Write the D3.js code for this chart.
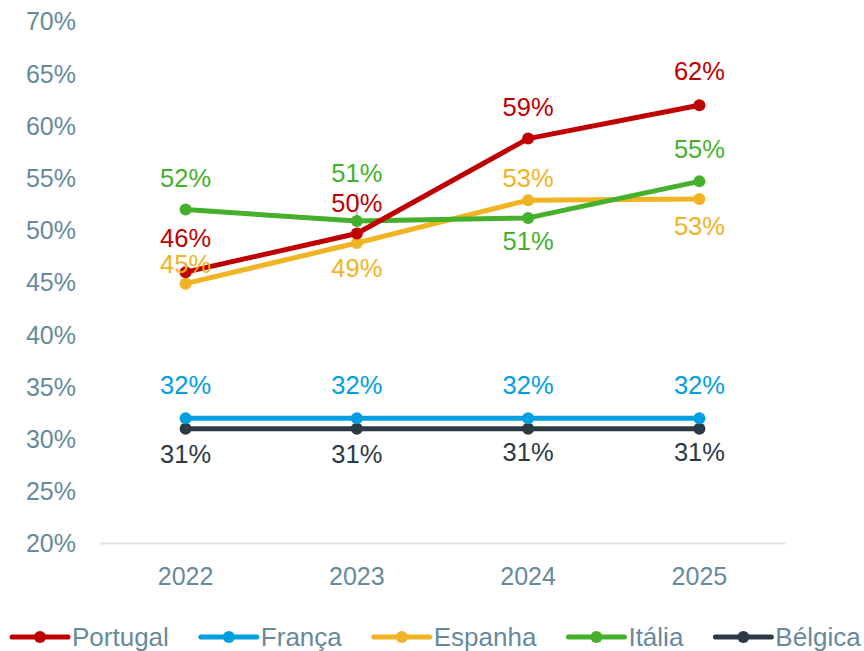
<!DOCTYPE html>
<html>
<head>
<meta charset="utf-8">
<script src="https://cdn.jsdelivr.net/npm/d3@7"></script>
<style>
  html, body { margin: 0; padding: 0; background: #fff; }
  svg { display: block; font-family: "Liberation Sans", Arial, sans-serif; }
</style>
</head>
<body>
<svg id="chart" width="864" height="651"></svg>
<script>
// Years on the x axis
const years = ["2022", "2023", "2024", "2025"];

// Share per country and year (%)
const portugal = [46.0, 49.7, 58.8, 62.0];
const franca   = [32.0, 32.0, 32.0, 32.0];
const espanha  = [44.9, 48.8, 52.9, 53.0];
const italia   = [52.0, 50.9, 51.2, 54.7];
const belgica  = [31.0, 31.0, 31.0, 31.0];

// Y axis ticks (%)
const yTicks = [20, 25, 30, 35, 40, 45, 50, 55, 60, 65, 70];

const series = [
  { name: "Portugal", values: portugal, color: "#c00000" },
  { name: "França",   values: franca,   color: "#00a0e0" },
  { name: "Espanha",  values: espanha,  color: "#f0b323" },
  { name: "Itália",   values: italia,   color: "#45b02c" },
  { name: "Bélgica",  values: belgica,  color: "#2b3a45" }
];

// Vertical offset of each value label's baseline relative to its point
const labelOffsets = {
  "Portugal": [-25, -22, -23, -25],
  "França":   [-24, -24, -24, -24],
  "Espanha":  [-11, 34, -13, 36],
  "Itália":   [-23, -39, 32, -23],
  "Bélgica":  [34, 34, 32, 32]
};

const axisColor = "#668a9c";
const svg = d3.select("#chart");

const x = d3.scalePoint().domain(years).range([185.6, 699.4]);
const y = d3.scaleLinear().domain([20, 70]).range([543.5, 21.7]);

// Y tick labels
svg.append("g").selectAll("text")
  .data(yTicks).join("text")
  .attr("x", 76).attr("y", d => y(d)).attr("dy", "0.35em")
  .attr("text-anchor", "end")
  .attr("font-size", 25).attr("fill", axisColor)
  .text(d => d + "%");

// Baseline
svg.append("line")
  .attr("x1", 100).attr("x2", 785)
  .attr("y1", y(20)).attr("y2", y(20))
  .attr("stroke", "#dde2e6").attr("stroke-width", 2);

// X tick labels
svg.append("g").selectAll("text")
  .data(years).join("text")
  .attr("x", d => x(d)).attr("y", 585)
  .attr("text-anchor", "middle")
  .attr("font-size", 25).attr("fill", axisColor)
  .text(d => d);

// Leader line for the crowded 2023 Portugal label
svg.append("line")
  .attr("x1", x("2023")).attr("x2", x("2023"))
  .attr("y1", y(italia[1]) - 28).attr("y2", y(italia[1]))
  .attr("stroke", "#a9b4bd").attr("stroke-width", 1.5);

const line = d3.line().x((d, i) => x(years[i])).y(d => y(d));

// Draw series bottom-up so Portugal sits on top
const drawOrder = ["Bélgica", "França", "Espanha", "Itália", "Portugal"];
drawOrder.forEach(nm => {
  const s = series.find(t => t.name === nm);
  const g = svg.append("g");
  g.append("path").datum(s.values)
    .attr("d", line).attr("fill", "none")
    .attr("stroke", s.color).attr("stroke-width", 5)
    .attr("stroke-linejoin", "round");
  g.selectAll("circle").data(s.values).join("circle")
    .attr("cx", (d, i) => x(years[i])).attr("cy", d => y(d))
    .attr("r", 6).attr("fill", s.color);
});

// Value labels
series.forEach(s => {
  svg.append("g").selectAll("text").data(s.values).join("text")
    .attr("x", (d, i) => x(years[i]))
    .attr("y", (d, i) => y(d) + labelOffsets[s.name][i])
    .attr("text-anchor", "middle")
    .attr("font-size", 25.5).attr("fill", s.color)
    .text(d => Math.round(d) + "%");
});

// Legend
const legend = svg.append("g");
let lx = 12;
const ly = 637;
series.forEach(s => {
  const item = legend.append("g").attr("transform", `translate(${lx},0)`);
  item.append("line").attr("x1", 0).attr("x2", 56).attr("y1", ly).attr("y2", ly)
    .attr("stroke", s.color).attr("stroke-width", 5).attr("stroke-linecap", "round");
  item.append("circle").attr("cx", 28).attr("cy", ly).attr("r", 6).attr("fill", s.color);
  const t = item.append("text").attr("x", 60).attr("y", ly).attr("dy", "0.35em")
    .attr("font-size", 26).attr("fill", axisColor).text(s.name);
  lx += 60 + t.node().getComputedTextLength() + 32;
});
</script>
</body>
</html>
